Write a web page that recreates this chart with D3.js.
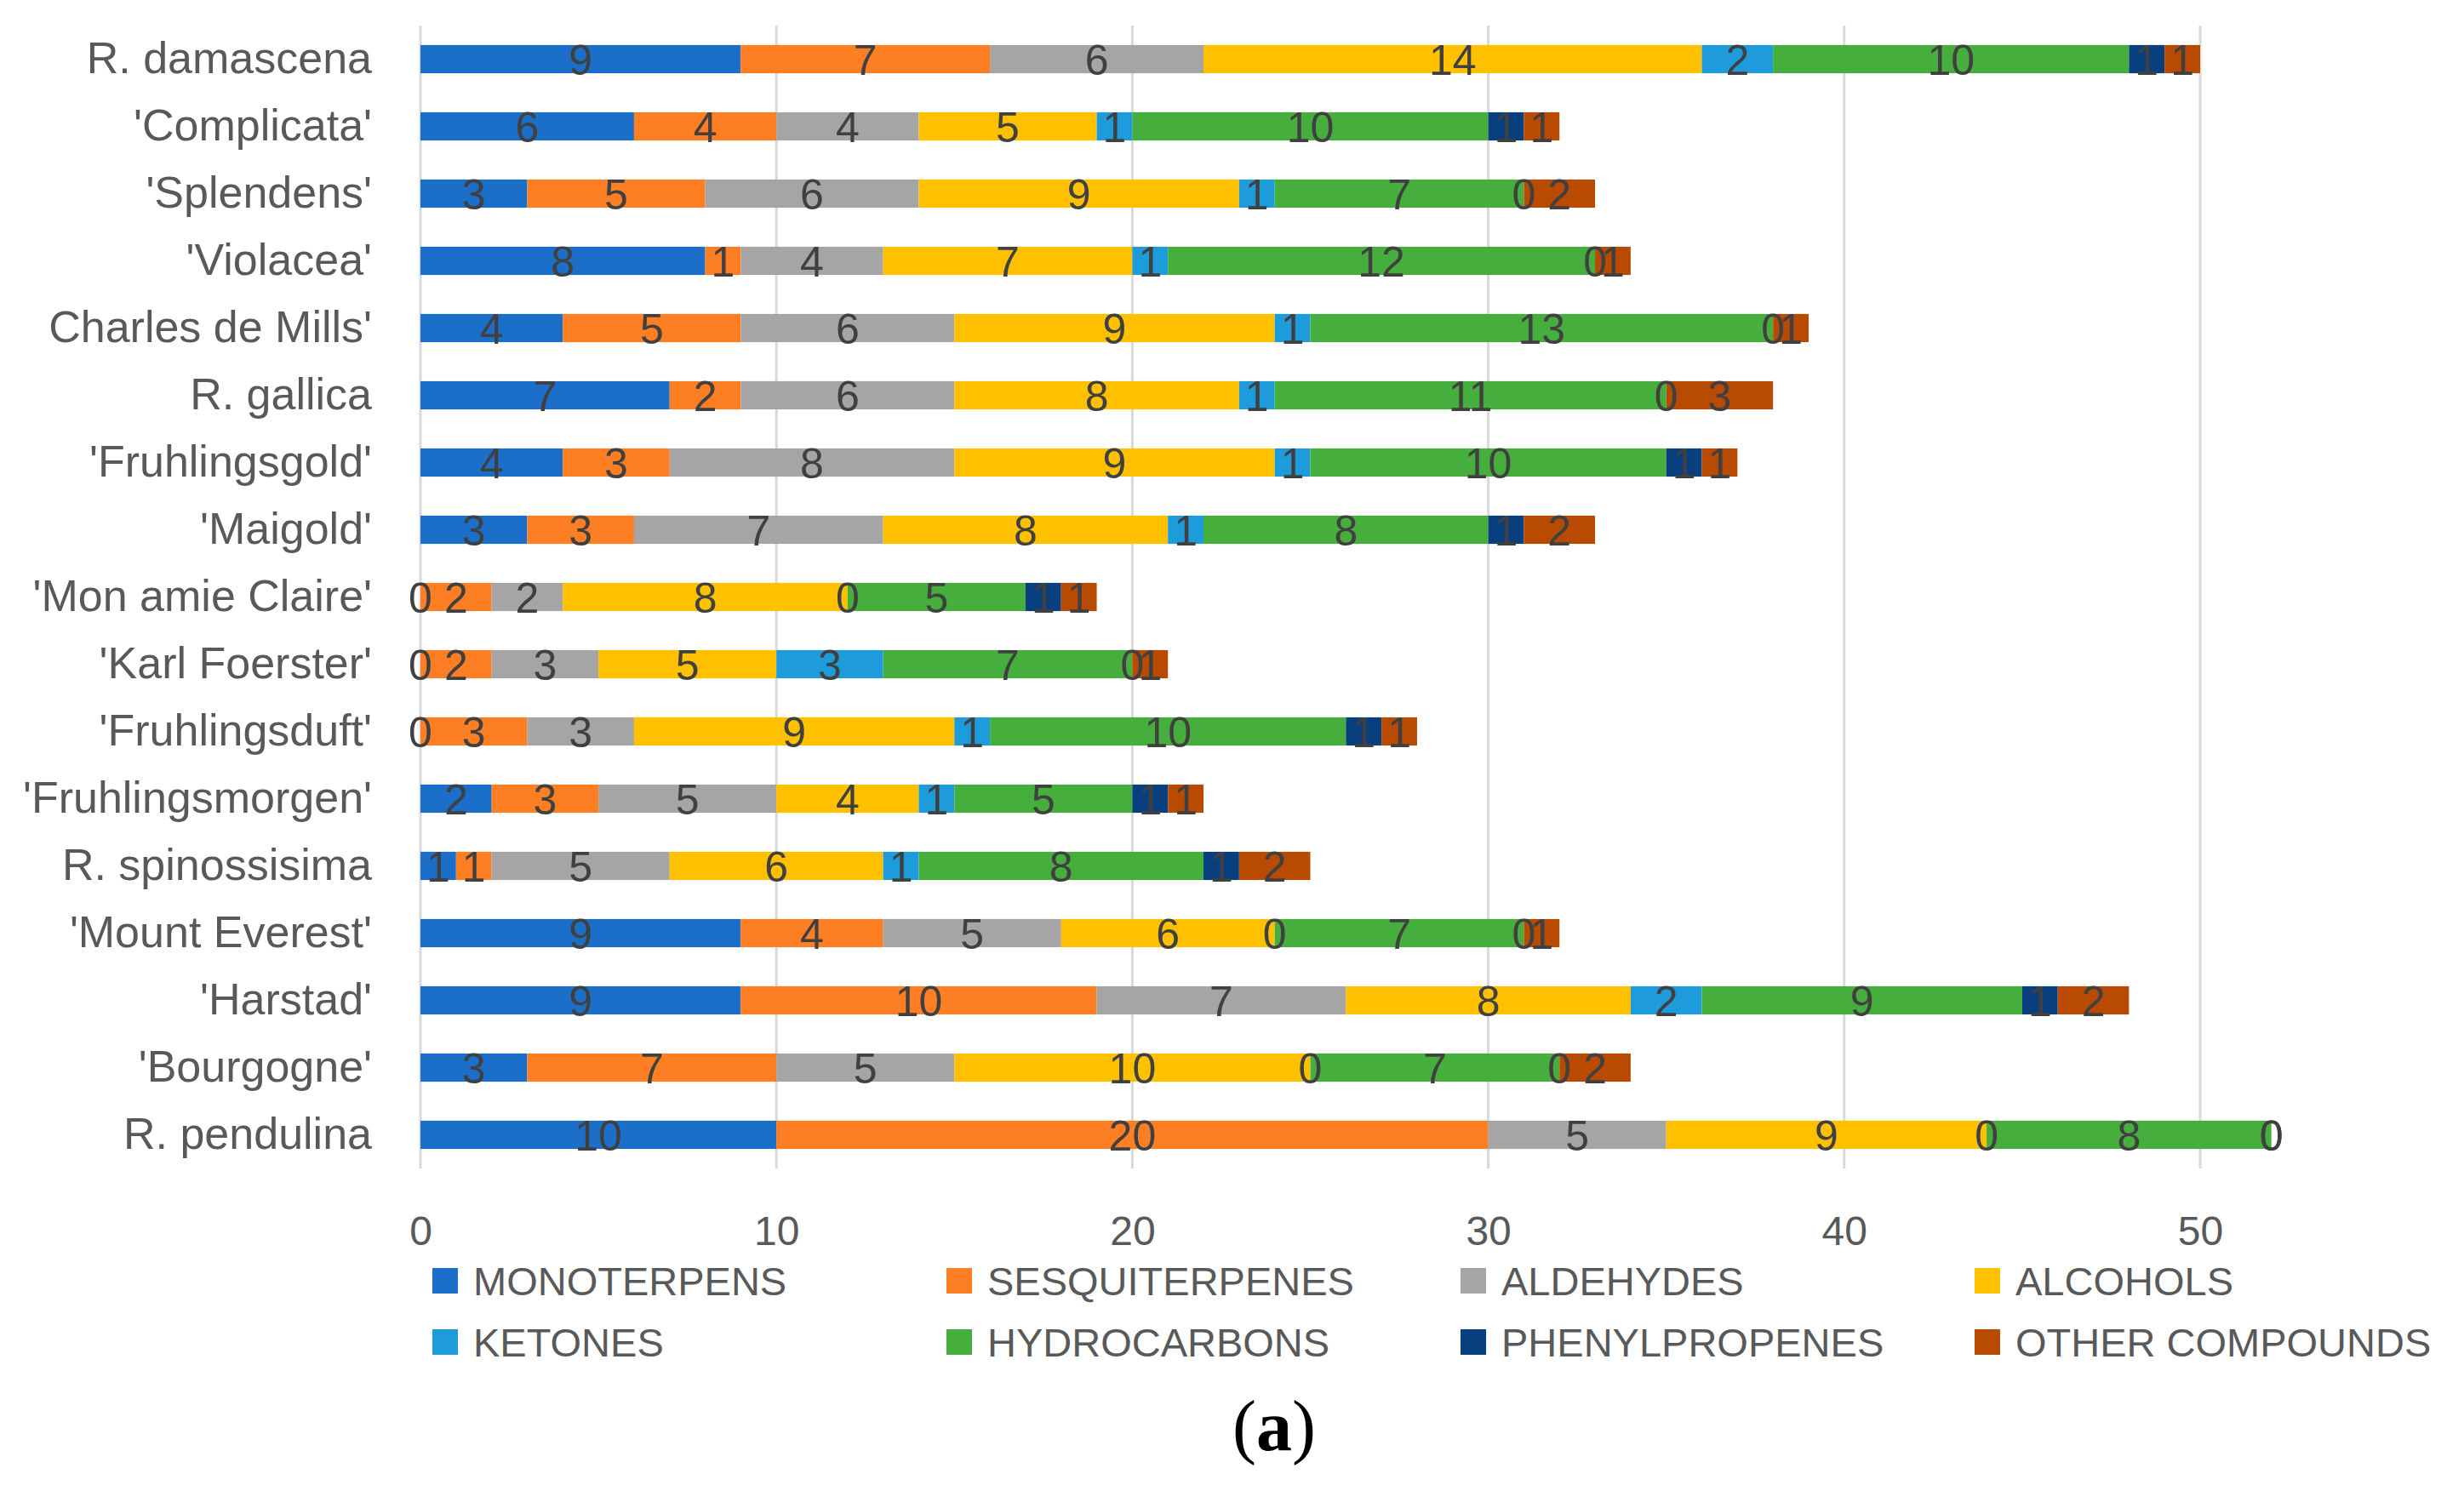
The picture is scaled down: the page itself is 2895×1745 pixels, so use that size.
<!DOCTYPE html>
<html>
<head>
<meta charset="utf-8">
<script src="https://cdn.jsdelivr.net/npm/d3@7"></script>
<style>
    body { margin: 0; background: #fff; }
    text { font-family: "Liberation Sans", Arial, sans-serif; }
</style>
</head>
<body>
<div id="chart"></div>
<script>
// Rose cultivars, top to bottom
const categories = ["R. damascena", "'Complicata'", "'Splendens'", "'Violacea'", "Charles de Mills'",
    "R. gallica", "'Fruhlingsgold'", "'Maigold'", "'Mon amie Claire'", "'Karl Foerster'",
    "'Fruhlingsduft'", "'Fruhlingsmorgen'", "R. spinossisima", "'Mount Everest'", "'Harstad'",
    "'Bourgogne'", "R. pendulina"];

const seriesNames = ["MONOTERPENS", "SESQUITERPENES", "ALDEHYDES", "ALCOHOLS",
    "KETONES", "HYDROCARBONS", "PHENYLPROPENES", "OTHER COMPOUNDS"];
const seriesColours = ["#1B6FC8", "#FD7E23", "#A5A5A5", "#FFC000",
    "#1E9BDB", "#46AE3C", "#083F7E", "#B84A02"];

// counts per compound class, in category order
const monoterpens    = [9, 6, 3, 8, 4, 7, 4, 3, 0, 0, 0, 2, 1, 9, 9, 3, 10];
const sesquiterpenes = [7, 4, 5, 1, 5, 2, 3, 3, 2, 2, 3, 3, 1, 4, 10, 7, 20];
const aldehydes      = [6, 4, 6, 4, 6, 6, 8, 7, 2, 3, 3, 5, 5, 5, 7, 5, 5];
const alcohols       = [14, 5, 9, 7, 9, 8, 9, 8, 8, 5, 9, 4, 6, 6, 8, 10, 9];
const ketones        = [2, 1, 1, 1, 1, 1, 1, 1, 0, 3, 1, 1, 1, 0, 2, 0, 0];
const hydrocarbons   = [10, 10, 7, 12, 13, 11, 10, 8, 5, 7, 10, 5, 8, 7, 9, 7, 8];
const phenylpropenes = [1, 1, 0, 0, 0, 0, 1, 1, 1, 0, 1, 1, 1, 0, 1, 0, 0];
const otherCompounds = [1, 1, 2, 1, 1, 3, 1, 2, 1, 1, 1, 1, 2, 1, 2, 2, 0];

const xTicks = [0, 10, 20, 30, 40, 50];
const caption = "a";

const seriesValues = [monoterpens, sesquiterpenes, aldehydes, alcohols,
    ketones, hydrocarbons, phenylpropenes, otherCompounds];

// table for d3.stack
const rows = categories.map((c, i) => {
    let r = {name: c};
    seriesNames.forEach((s, j) => r[s] = seriesValues[j][i]);
    return r;
});

const W = 2895, H = 1745;

let svg = d3.select("#chart")
    .append("svg")
    .attr("width", W)
    .attr("height", H);

// scales
var x = d3.scaleLinear()
    .domain([0, 52])
    .range([494, 494 + 52 * 41.82]);

var y = d3.scaleBand()
    .domain(categories)
    .range([30, 1373])
    .paddingInner(0.58)
    .paddingOuter(0.29);

var colour = d3.scaleOrdinal()
    .domain(seriesNames)
    .range(seriesColours);

// vertical gridlines
svg.append("g")
    .selectAll("line")
    .data(xTicks)
    .enter()
    .append("line")
    .attr("x1", (d) => x(d))
    .attr("x2", (d) => x(d))
    .attr("y1", 30)
    .attr("y2", 1373)
    .style("stroke", "#D9D9D9")
    .style("stroke-width", 3);

// X axis labels
svg.append("g")
    .attr("transform", "translate(0,1413)")
    .call(d3.axisBottom(x).tickValues(xTicks).tickSize(0).tickPadding(0))
    .call((g) => g.select(".domain").remove())
    .selectAll("text")
    .attr("dy", "1.05em")
    .style("font-size", "48px")
    .style("font-family", "Liberation Sans, Arial, sans-serif")
    .style("fill", "#595959");

// Y axis labels
svg.append("g")
    .attr("transform", "translate(494,0)")
    .call(d3.axisLeft(y).tickSize(0).tickPadding(57))
    .call((g) => g.select(".domain").remove())
    .selectAll("text")
    .style("font-size", "52px")
    .style("font-family", "Liberation Sans, Arial, sans-serif")
    .style("fill", "#595959");

// stacked bars
const stacked = d3.stack().keys(seriesNames)(rows);

let layers = svg.append("g")
    .selectAll("g")
    .data(stacked)
    .enter()
    .append("g")
    .style("fill", (d) => colour(d.key));

layers.selectAll("rect")
    .data((d) => d)
    .enter()
    .append("rect")
    .attr("x", (d) => x(d[0]))
    .attr("y", (d) => y(d.data.name))
    .attr("width", (d) => x(d[1]) - x(d[0]))
    .attr("height", y.bandwidth());

// value labels, centred in each segment
svg.append("g")
    .selectAll("g")
    .data(stacked)
    .enter()
    .append("g")
    .selectAll("text")
    .data((d) => d.map((s) => ({v: s[1] - s[0], x0: s[0], x1: s[1], name: s.data.name})))
    .enter()
    .append("text")
    .attr("x", (d) => x((d.x0 + d.x1) / 2))
    .attr("y", (d) => y(d.name) + y.bandwidth() / 2)
    .attr("dy", "0.36em")
    .attr("text-anchor", "middle")
    .style("font-size", "50px")
    .style("fill", "#404040")
    .text((d) => d.v);

// legend, 4 columns x 2 rows
let legend = svg.append("g")
    .selectAll("g")
    .data(seriesNames)
    .enter()
    .append("g")
    .attr("transform", (d, i) => "translate(" + (508 + (i % 4) * 604) + "," + (1490 + Math.floor(i / 4) * 72) + ")");

legend.append("rect")
    .attr("width", 30)
    .attr("height", 30)
    .style("fill", (d) => colour(d));

legend.append("text")
    .attr("x", 48)
    .attr("y", 32)
    .style("font-size", "47px")
    .style("fill", "#595959")
    .text((d) => d);

// caption
let cap = svg.append("text")
    .attr("x", 1497)
    .attr("y", 1704)
    .attr("text-anchor", "middle")
    .style("font-family", "Liberation Serif, Times New Roman, serif")
    .style("font-size", "84px")
    .style("fill", "#000");
cap.append("tspan").text("(");
cap.append("tspan").style("font-weight", "bold").text(caption);
cap.append("tspan").text(")");
</script>
</body>
</html>
